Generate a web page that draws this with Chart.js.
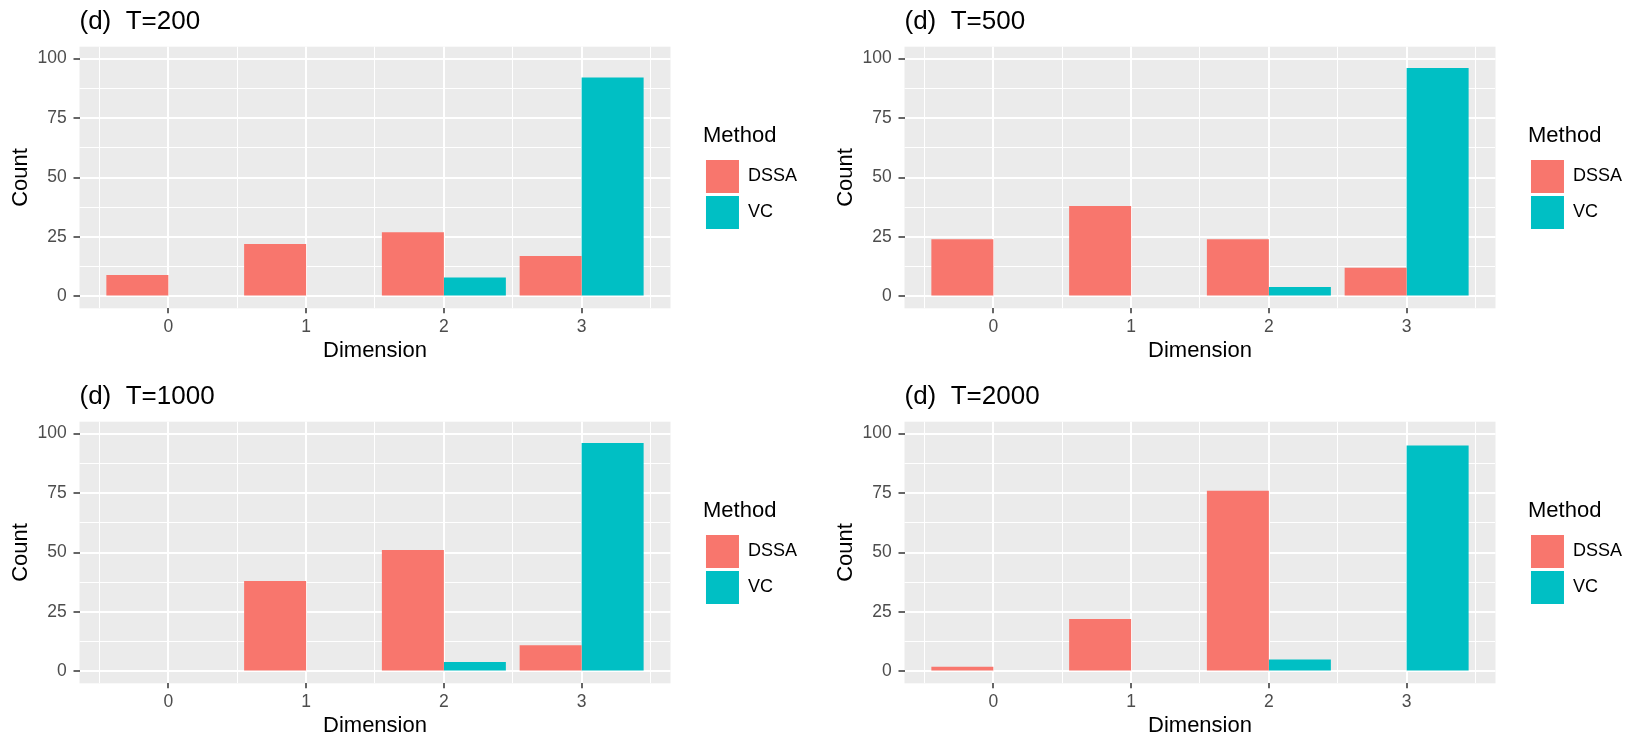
<!DOCTYPE html>
<html lang="en">
<head>
    <meta charset="UTF-8">
    <title>Dimension counts by method</title>
    <style>
        body {
            margin: 0;
            padding: 0;
            background: #ffffff;
        }
        .panel {
            position: absolute;
            width: 825px;
            height: 375px;
        }
    </style>
</head>
<body>
    <div class="panel" style="left:0;top:0"><canvas id="c200"></canvas></div>
    <div class="panel" style="left:825px;top:0"><canvas id="c500"></canvas></div>
    <div class="panel" style="left:0;top:375px"><canvas id="c1000"></canvas></div>
    <div class="panel" style="left:825px;top:375px"><canvas id="c2000"></canvas></div>

    <script src="https://cdn.jsdelivr.net/npm/chart.js"></script>
    <script>
        // data
        const dimensions = [0, 1, 2, 3];
        const dssa200 = [9, 22, 27, 17];
        const vc200 = [0, 0, 8, 92];
        const dssa500 = [24, 38, 24, 12];
        const vc500 = [0, 0, 4, 96];
        const dssa1000 = [0, 38, 51, 11];
        const vc1000 = [0, 0, 4, 96];
        const dssa2000 = [2, 22, 76, 0];
        const vc2000 = [0, 0, 5, 95];

        // tick / grid breaks (ggplot style)
        const xMajor = [0, 1, 2, 3];
        const xMinor = [-0.5, 0.5, 1.5, 2.5, 3.5];
        const yMajor = [0, 25, 50, 75, 100];
        const yMinor = [12.5, 37.5, 62.5, 87.5];

        const X_MIN = -0.645, X_MAX = 3.645;
        const Y_MIN = -5, Y_MAX = 105;

        Chart.defaults.font.family = "'Liberation Sans', Arial, sans-serif";
        Chart.defaults.devicePixelRatio = 1;

        const panelBg = {
            id: 'panelBg',
            beforeDraw(chart) {
                const a = chart.chartArea;
                const ctx = chart.ctx;
                ctx.save();
                ctx.fillStyle = '#EBEBEB';
                ctx.fillRect(a.left, a.top, a.right - a.left, a.bottom - a.top);
                ctx.restore();
            }
        };

        function setTicks(values) {
            return scale => { scale.ticks = values.map(v => ({ value: v })); };
        }

        function makeChart(id, title, dssa, vc) {
            new Chart(document.getElementById(id), {
                type: 'bar',
                data: {
                    datasets: [
                        {
                            label: 'DSSA',
                            data: dimensions.map((d, i) => ({ x: d, y: dssa[i] })),
                            backgroundColor: '#F8766D',
                            borderWidth: 0
                        },
                        {
                            label: 'VC',
                            data: dimensions.map((d, i) => ({ x: d, y: vc[i] })),
                            backgroundColor: '#00BFC4',
                            borderWidth: 0
                        }
                    ]
                },
                options: {
                    responsive: true,
                    maintainAspectRatio: false,
                    animation: false,
                    events: [],
                    categoryPercentage: 0.9,
                    barPercentage: 1.0,
                    layout: { padding: { left: 0, right: 18, top: 0, bottom: 0 } },
                    scales: {
                        x: {
                            type: 'linear',
                            offset: false,
                            min: X_MIN,
                            max: X_MAX,
                            bounds: 'data',
                            afterBuildTicks: setTicks(xMajor),
                            afterFit: s => { s.height = 66.7; },
                            grid: { offset: false, color: '#ffffff', lineWidth: 2, tickColor: '#333333', tickWidth: 1.5, tickLength: 5 },
                            border: { display: false },
                            ticks: { color: '#4D4D4D', font: { size: 17.5 }, padding: 3.5, maxRotation: 0 },
                            title: { display: true, text: 'Dimension', color: '#000000', font: { size: 22 }, padding: { top: 0, bottom: 10.4 } }
                        },
                        x2: {
                            type: 'linear',
                            position: 'bottom',
                            offset: false,
                            min: X_MIN,
                            max: X_MAX,
                            bounds: 'data',
                            afterBuildTicks: setTicks(xMinor),
                            afterFit: s => { s.height = 0; },
                            grid: { offset: false, color: '#ffffff', lineWidth: 1, drawTicks: false },
                            border: { display: false },
                            ticks: { display: false }
                        },
                        y: {
                            type: 'linear',
                            min: Y_MIN,
                            max: Y_MAX,
                            bounds: 'data',
                            afterBuildTicks: setTicks(yMajor),
                            afterFit: s => { s.width = 79.5; },
                            grid: { color: '#ffffff', lineWidth: 2, tickColor: '#333333', tickWidth: 1.5, tickLength: 6 },
                            border: { display: false },
                            ticks: { color: '#4D4D4D', font: { size: 17.5 }, padding: 6.8 },
                            title: { display: true, text: 'Count', color: '#000000', font: { size: 22 }, padding: { top: 7.5, bottom: 0 } }
                        },
                        y2: {
                            type: 'linear',
                            position: 'right',
                            min: Y_MIN,
                            max: Y_MAX,
                            bounds: 'data',
                            afterBuildTicks: setTicks(yMinor),
                            afterFit: s => { s.width = 32.5; },
                            grid: { color: '#ffffff', lineWidth: 1, drawTicks: false },
                            border: { display: false },
                            ticks: { display: false }
                        }
                    },
                    plugins: {
                        tooltip: { enabled: false },
                        title: {
                            display: true,
                            text: title,
                            align: 'start',
                            fullSize: false,
                            color: '#000000',
                            font: { size: 26, weight: 'normal' },
                            padding: { top: 6.1, bottom: 9.4 }
                        },
                        legend: {
                            position: 'right',
                            align: 'center',
                            fullSize: false,
                            title: {
                                display: true,
                                text: 'Method',
                                position: 'start',
                                color: '#000000',
                                font: { size: 22 },
                                padding: { top: 1.7, bottom: 5.9 }
                            },
                            labels: {
                                boxWidth: 33,
                                boxHeight: 33,
                                padding: 3,
                                color: '#000000',
                                font: { size: 18 }
                            }
                        }
                    }
                },
                plugins: [panelBg]
            });
        }

        makeChart('c200', '(d)  T=200', dssa200, vc200);
        makeChart('c500', '(d)  T=500', dssa500, vc500);
        makeChart('c1000', '(d)  T=1000', dssa1000, vc1000);
        makeChart('c2000', '(d)  T=2000', dssa2000, vc2000);
    </script>
</body>
</html>
